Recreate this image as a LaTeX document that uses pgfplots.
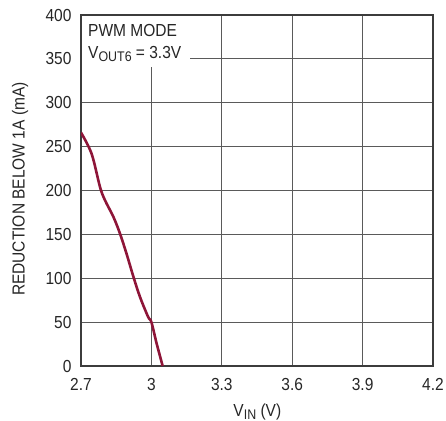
\documentclass[border=0pt]{standalone}
\usepackage{pgfplots}
\pgfplotsset{compat=1.18}
\usepackage{fontspec}
\setmainfont{Liberation Sans}[FakeStretch=0.89]
\newfontfamily\plainsans{Liberation Sans}
\definecolor{curve}{HTML}{8E1538}
\definecolor{gridc}{HTML}{5A5A5A}
\definecolor{framec}{HTML}{3C3C3C}
\definecolor{txt}{HTML}{262626}
\newcommand{\bigf}{\fontsize{17.5}{17.5}\selectfont}
\begin{document}
\bigf
\begin{tikzpicture}
\useasboundingbox (-81bp,-55bp) rectangle (365bp,15bp+351bp);
\begin{axis}[
  at={(0,0)}, anchor=south west,
  scale only axis, width=352bp, height=351bp,
  xmin=2.7, xmax=4.2, ymin=0, ymax=400,
  xtick={2.7,3,3.3,3.6,3.9,4.2},
  xticklabels={2.7,3,3.3,3.6,3.9,4.2},
  ytick={0,50,100,150,200,250,300,350,400},
  yticklabels={0,50,100,150,200,250,300,350,400},
  major tick length=0pt,
  grid=major,
  major grid style={gridc, line width=0.9bp},
  axis line style={framec, line width=1.6bp},
  tick label style={font=\bigf, text=txt, inner sep=0pt},
  xticklabel style={anchor=base, yshift=-24bp},
  yticklabel style={anchor=east, xshift=-9.3bp},
  xlabel={V\raisebox{-0.35ex}{\fontsize{14}{14}\selectfont IN} (V)},
  ylabel={\scalebox{0.89}[1]{\plainsans\bigf REDUCTION BELOW 1A (mA)}},
  label style={font=\bigf, text=txt, inner sep=0pt},
  xlabel style={at={(axis description cs:0.501,-0.1425)}, anchor=base},
  ylabel style={at={(axis description cs:-0.1733,0.504)}, anchor=center},
  clip=true,
]
\addplot[curve, line width=2.6bp, smooth, tension=0.55] coordinates {
 (2.700,266) (2.745,242) (2.781,204) (2.802,189) (2.838,170) (2.866,151)
 (2.894,128) (2.923,102) (2.951,79) (2.986,56) (3.000,50) (3.022,26) (3.048,0)
};
\fill[white] ([xshift=0.9bp,yshift=-0.9bp]rel axis cs:0,1) rectangle (axis cs:3.164,340.7);
\node[anchor=base west, inner sep=0pt, text=txt] at ([xshift=7bp,yshift=-21.5bp]rel axis cs:0,1) {PWM MODE};
\node[anchor=base west, inner sep=0pt, text=txt] at ([xshift=7bp,yshift=-43bp]rel axis cs:0,1) {V\raisebox{-0.35ex}{\fontsize{14}{14}\selectfont OUT6} = 3.3V};
\end{axis}
\end{tikzpicture}
\end{document}
